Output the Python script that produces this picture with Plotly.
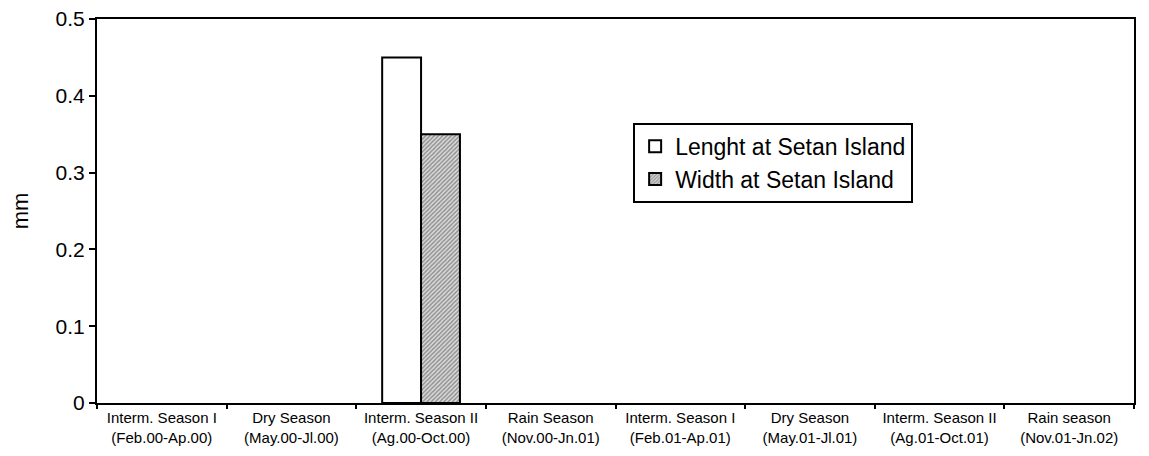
import plotly.graph_objects as go

seasons = [
    "Interm. Season I<br>(Feb.00-Ap.00)",
    "Dry Season<br>(May.00-Jl.00)",
    "Interm. Season II<br>(Ag.00-Oct.00)",
    "Rain Season<br>(Nov.00-Jn.01)",
    "Interm. Season I<br>(Feb.01-Ap.01)",
    "Dry Season<br>(May.01-Jl.01)",
    "Interm. Season II<br>(Ag.01-Oct.01)",
    "Rain season<br>(Nov.01-Jn.02)",
]
length_setan = [None, None, 0.45, None, None, None, None, None]
width_setan = [None, None, 0.35, None, None, None, None, None]

fig = go.Figure()
fig.add_trace(go.Bar(x=seasons, y=length_setan, name="Lenght at Setan Island",
                     marker=dict(color="white", line=dict(color="black", width=2))))
fig.add_trace(go.Bar(x=seasons, y=width_setan, name="Width at Setan Island",
                     marker=dict(color="white", line=dict(color="black", width=2),
                                 pattern=dict(shape="/", fgcolor="#444444", bgcolor="#dddddd",
                                              size=3, solidity=0.5))))

# page body has an 8px margin, so the figure is a bit smaller than the window
fig.update_layout(
    width=1141, height=448,
    margin=dict(l=89, r=15, t=11, b=53),
    plot_bgcolor="white", paper_bgcolor="white",
    barmode="group", bargap=0.4, bargroupgap=0,
    font=dict(family="Liberation Sans, Arial", color="black"),
    showlegend=True,
    legend=dict(x=0.517, y=0.73, xanchor="left", yanchor="top",
                bordercolor="black", borderwidth=2, bgcolor="white",
                font=dict(size=23), tracegroupgap=0, itemwidth=30),
)
fig.update_xaxes(showline=True, linecolor="black", linewidth=2, mirror=True,
                 ticks="outside", tickson="boundaries", ticklen=4, tickcolor="black",
                 tickwidth=2, tickfont=dict(size=15), automargin=False,
                 ticklabeloverflow="allow")
fig.update_yaxes(range=[0, 0.5], showline=True, linecolor="black", linewidth=2,
                 mirror=True, ticks="outside", ticklen=6, tickcolor="black", tickwidth=2,
                 showgrid=False, zeroline=False, tickfont=dict(size=21), automargin=False,
                 ticklabeloverflow="allow",
                 tickvals=[0, 0.1, 0.2, 0.3, 0.4, 0.5],
                 ticktext=["0", "0.1", "0.2", "0.3", "0.4", "0.5"],
                 title=dict(text="mm", font=dict(size=22), standoff=23))

fig.write_html("out.html")
